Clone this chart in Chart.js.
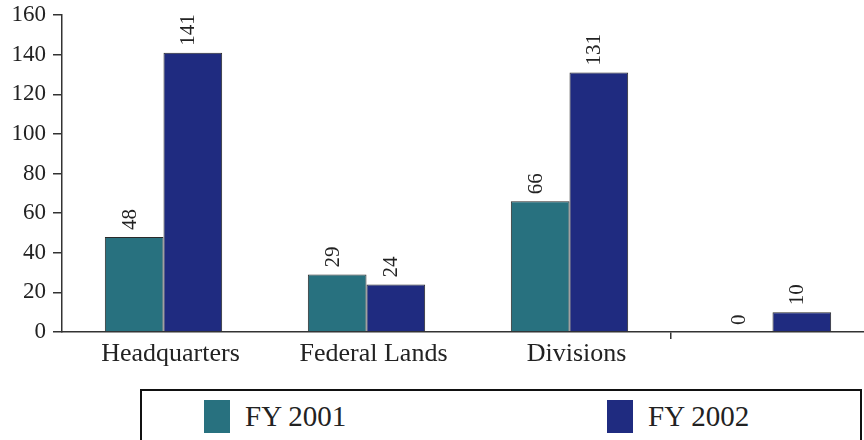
<!DOCTYPE html>
<html>
<head>
<meta charset="utf-8">
<script src="https://cdn.jsdelivr.net/npm/chart.js@4/dist/chart.umd.min.js"></script>
<style>
  html, body { margin: 0; padding: 0; background: #fff; overflow: hidden; width: 864px; height: 440px; }
  #wrap { position: absolute; left: 0; top: 0; width: 876px; height: 440px; }
  #legend {
    position: absolute; left: 140px; top: 389px; width: 722px; height: 60px;
    border: 2px solid #111; box-sizing: border-box; background: #fff;
    font-family: "Liberation Serif", "DejaVu Serif", serif; font-size: 29px; color: #222;
  }
  .item { position: absolute; top: 9px; height: 33px; display: flex; align-items: center; line-height: 1; }
  .swatch { width: 26px; height: 33px; margin-right: 15px; }
</style>
</head>
<body>
<div id="wrap"><canvas id="c" width="876" height="440"></canvas></div>
<div id="legend"></div>
<script>
// Funding by office, FY 2001 vs FY 2002
const categories = ["Headquarters", "Federal Lands", "Divisions", ""];
const fy2001 = [48, 29, 66, 0];
const fy2002 = [141, 24, 131, 10];
const seriesNames = ["FY 2001", "FY 2002"];
const yTicks = [0, 20, 40, 60, 80, 100, 120, 140, 160];

const serif = '"Liberation Serif", "DejaVu Serif", serif';
const colors = ["#28717f", "#1f2b80"];
const axisColor = "#333";

// Rotated value labels above each bar
const valueLabels = {
  id: "valueLabels",
  afterDatasetsDraw(chart) {
    const ctx = chart.ctx;
    ctx.save();
    ctx.font = "21px " + serif;
    ctx.fillStyle = "#222";
    ctx.textAlign = "left";
    ctx.textBaseline = "middle";
    chart.data.datasets.forEach((ds, di) => {
      chart.getDatasetMeta(di).data.forEach((bar, i) => {
        ctx.save();
        ctx.translate(bar.x - 4, bar.y - 7);
        ctx.rotate(-Math.PI / 2);
        ctx.fillText(String(ds.data[i]), 0, 0);
        ctx.restore();
      });
    });
    ctx.restore();
  }
};

const chart = new Chart(document.getElementById("c"), {
  type: "bar",
  data: {
    labels: categories,
    datasets: [
      { label: seriesNames[0], data: fy2001, backgroundColor: colors[0], borderColor: "#2a2a2a", borderWidth: 1 },
      { label: seriesNames[1], data: fy2002, backgroundColor: colors[1], borderColor: "#2a2a2a", borderWidth: 1 }
    ]
  },
  options: {
    responsive: false,
    animation: false,
    layout: { padding: { left: 0, right: 2, top: 15, bottom: 0 } },
    datasets: { bar: { categoryPercentage: 0.578, barPercentage: 1.0 } },
    plugins: { legend: { display: false }, tooltip: { enabled: false } },
    scales: {
      x: {
        afterFit(s) { s.height = 108; s.paddingLeft = 0; s.paddingRight = 0; },
        border: { display: true, color: axisColor, width: 1.5 },
        grid: {
          offset: true,
          drawOnChartArea: false,
          tickLength: 7,
          lineWidth: 1.5,
          color: (c) => (c.index === 3 ? axisColor : "rgba(0,0,0,0)")
        },
        ticks: { font: { family: serif, size: 26 }, color: "#222", padding: 0, maxRotation: 0, labelOffset: 7 }
      },
      y: {
        min: 0, max: 160,
        afterFit(s) { s.width = 62; s.paddingTop = 0; s.paddingBottom = 0; },
        afterBuildTicks(s) { s.ticks = yTicks.map(v => ({ value: v })); },
        border: { display: true, color: axisColor, width: 1.5 },
        grid: { drawOnChartArea: false, tickLength: 9, color: axisColor, lineWidth: 1.5 },
        ticks: { font: { family: serif, size: 23 }, color: "#222", padding: 7 }
      }
    }
  },
  plugins: [valueLabels]
});

// Boxed legend beneath the axis
const legend = document.getElementById("legend");
const itemLeft = [62, 465];
chart.data.datasets.forEach((ds, i) => {
  const item = document.createElement("div");
  item.className = "item";
  item.style.left = itemLeft[i] + "px";
  const sw = document.createElement("div");
  sw.className = "swatch";
  sw.style.background = ds.backgroundColor;
  const tx = document.createElement("span");
  tx.textContent = ds.label;
  item.appendChild(sw);
  item.appendChild(tx);
  legend.appendChild(item);
});
</script>
</body>
</html>
